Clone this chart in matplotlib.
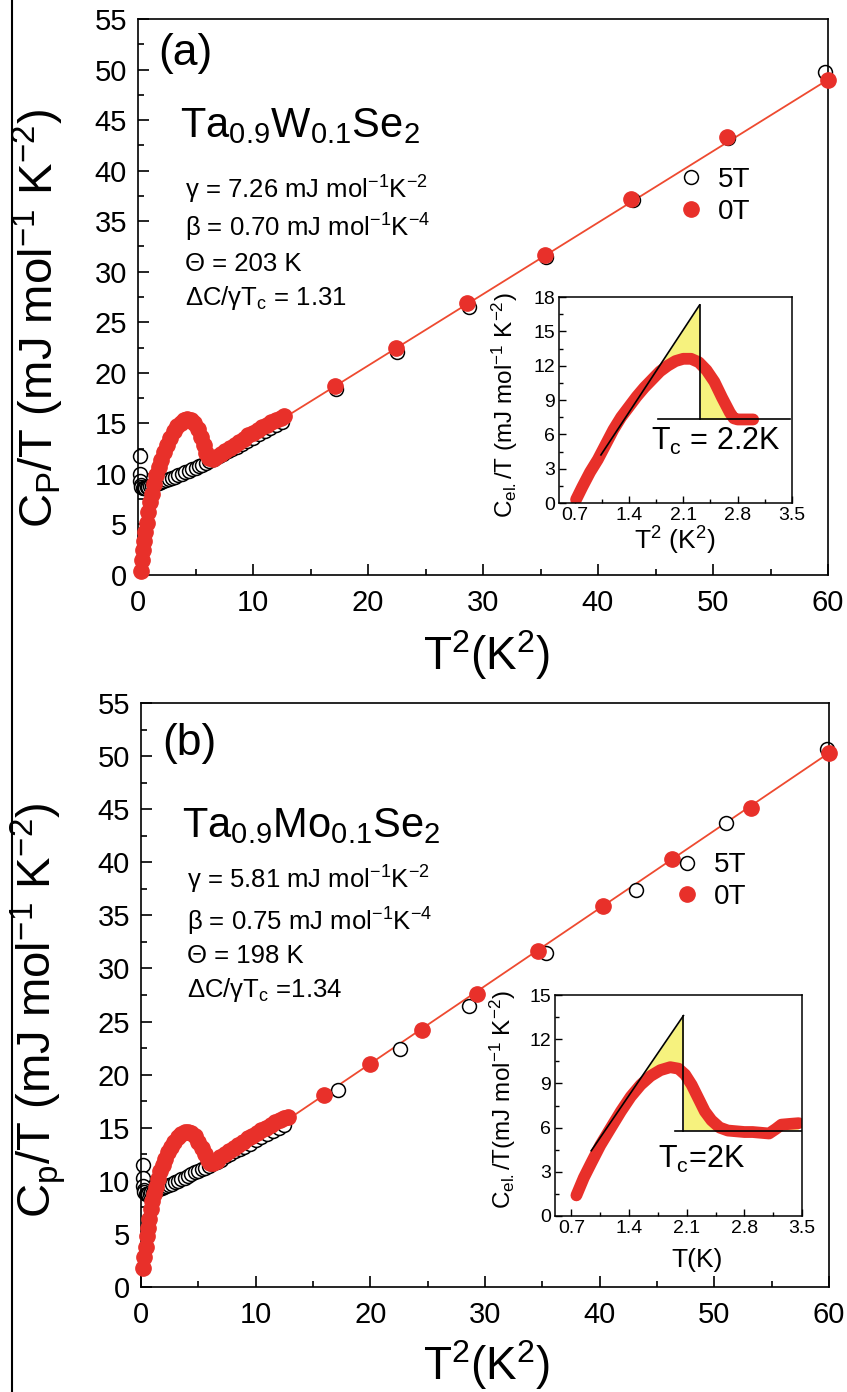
import numpy as np
import matplotlib
matplotlib.use("Agg")
import matplotlib.pyplot as plt
from matplotlib import rc
from matplotlib.ticker import MultipleLocator
from matplotlib.lines import Line2D

rc('font', family=['Liberation Sans', 'DejaVu Sans'])
rc('mathtext', fontset='custom', rm='Liberation Sans', it='Liberation Sans:italic',
   bf='Liberation Sans:bold', sf='Liberation Sans')

W, H = 847, 1392
RED = '#e8302a'
FITC = '#ee4a30'
YEL = '#f6f27e'

# ---------------- data, panel (a): Ta0.9W0.1Se2 ----------------
# 0 T (dense low-T part, then sparse points)
t2_0a = [0.25, 0.35, 0.45, 0.55, 0.65, 0.75, 0.9, 1.05, 1.2, 1.4, 1.6, 1.8, 2.0, 2.25, 2.5,
         2.8, 3.1, 3.4, 3.7, 4.0, 4.3, 4.6, 4.9, 5.2, 5.45, 5.7, 5.95, 6.2, 6.5, 6.8, 7.2,
         7.6, 8.0, 8.4, 8.8, 9.2, 9.6, 10.0, 10.4, 10.8, 11.2, 11.6, 12.0, 12.4, 12.7,
         17.1, 22.4, 28.6, 35.4, 42.9, 51.2, 60.0]
cp_0a = [0.4, 1.5, 2.5, 3.4, 4.3, 5.1, 6.2, 7.2, 8.0, 9.0, 9.9, 10.7, 11.4, 12.2, 12.9,
         13.6, 14.2, 14.7, 15.0, 15.3, 15.4, 15.3, 15.0, 14.4, 13.7, 12.9, 12.1, 11.6, 11.5,
         11.7, 12.0, 12.3, 12.6, 12.9, 13.2, 13.5, 13.8, 14.0, 14.3, 14.6, 14.8, 15.1, 15.3,
         15.5, 15.7,
         18.7, 22.5, 26.9, 31.7, 37.2, 43.3, 49.0]
# 5 T
t2_5a = [0.15, 0.18, 0.2, 0.25, 0.3, 0.4, 0.5, 0.6, 0.75, 0.9, 1.05, 1.2, 1.4, 1.6, 1.8,
         2.0, 2.2, 2.45, 2.7, 2.95, 3.2, 3.5, 3.8, 4.1, 4.4, 4.7, 5.0, 5.3, 5.6, 5.9, 6.2,
         6.6, 7.0, 7.4, 7.8, 8.2, 8.6, 9.0, 9.5, 10.0, 10.5, 11.0, 11.5, 12.0, 12.5,
         17.2, 22.5, 28.8, 35.5, 43.0, 51.3, 59.7]
cp_5a = [11.8, 10.0, 9.3, 8.9, 8.7, 8.6, 8.6, 8.6, 8.7, 8.7, 8.8, 8.8, 8.9, 9.0, 9.1,
         9.2, 9.3, 9.4, 9.5, 9.6, 9.7, 9.9, 10.0, 10.2, 10.3, 10.5, 10.6, 10.8, 10.9, 11.1,
         11.3, 11.5, 11.8, 12.0, 12.3, 12.5, 12.7, 13.0, 13.3, 13.6, 13.9, 14.2, 14.5,
         14.8, 15.1,
         18.4, 22.1, 26.5, 31.5, 37.1, 43.2, 49.8]
fit_t2 = [12.5, 60]
fit_a = [15.4, 49.0]

# inset (a)
ins_xa = [0.72, 0.8, 0.9, 1.0, 1.1, 1.2, 1.3, 1.4, 1.5, 1.6, 1.7, 1.8, 1.9, 2.0, 2.1, 2.2,
          2.3, 2.4, 2.5, 2.6, 2.7, 2.75, 2.8, 2.9, 3.0]
ins_ya = [0.3, 1.4, 2.7, 3.8, 5.1, 6.4, 7.5, 8.4, 9.3, 10.1, 10.8, 11.5, 12.0, 12.4, 12.6,
          12.6, 12.3, 11.6, 10.6, 9.2, 7.9, 7.4, 7.3, 7.3, 7.3]
tang_a = ([1.04, 2.31], [4.2, 17.3])
tc_a, base_a, hline_a = 2.31, 7.3, [1.77, 3.47]

# ---------------- data, panel (b): Ta0.9Mo0.1Se2 ----------------
t2_0b = [0.2, 0.3, 0.4, 0.5, 0.6, 0.7, 0.85, 1.0, 1.15, 1.3, 1.5, 1.7, 1.9, 2.1, 2.35, 2.6,
         2.9, 3.2, 3.5, 3.8, 4.1, 4.4, 4.7, 5.0, 5.3, 5.55, 5.8, 6.05, 6.3, 6.6, 6.9, 7.3,
         7.7, 8.1, 8.5, 8.9, 9.3, 9.7, 10.1, 10.5, 10.9, 11.3, 11.7, 12.1, 12.5, 12.8,
         16.0, 20.0, 24.5, 29.3, 34.6, 40.3, 46.3, 53.2, 60.0]
cp_0b = [1.8, 2.8, 3.8, 4.8, 5.6, 6.4, 7.3, 8.1, 8.8, 9.4, 10.2, 10.9, 11.5, 12.1, 12.7,
         13.2, 13.7, 14.1, 14.4, 14.6, 14.6, 14.5, 14.2, 13.7, 13.1, 12.5, 12.0, 11.7, 11.7,
         11.9, 12.2, 12.5, 12.8, 13.1, 13.4, 13.7, 14.0, 14.2, 14.5, 14.8, 15.0, 15.3, 15.5,
         15.7, 15.9, 16.0,
         18.1, 21.0, 24.2, 27.6, 31.6, 35.9, 40.3, 45.1, 50.3]
t2_5b = [0.15, 0.18, 0.2, 0.25, 0.3, 0.4, 0.5, 0.6, 0.75, 0.9, 1.05, 1.2, 1.4, 1.6, 1.8,
         2.0, 2.2, 2.45, 2.7, 2.95, 3.2, 3.5, 3.8, 4.1, 4.4, 4.7, 5.0, 5.3, 5.6, 5.9, 6.2,
         6.6, 7.0, 7.4, 7.8, 8.2, 8.6, 9.0, 9.5, 10.0, 10.5, 11.0, 11.5, 12.0, 12.5,
         17.2, 22.6, 28.6, 35.3, 43.2, 51.0, 59.8]
cp_5b = [11.5, 10.3, 9.5, 9.1, 8.9, 8.8, 8.8, 8.8, 8.8, 8.9, 8.9, 9.0, 9.1, 9.2, 9.3,
         9.4, 9.5, 9.6, 9.7, 9.9, 10.0, 10.2, 10.3, 10.5, 10.6, 10.8, 10.9, 11.1, 11.2,
         11.4, 11.6, 11.8, 12.0, 12.3, 12.5, 12.8, 13.0, 13.2, 13.5, 13.8, 14.1, 14.4,
         14.7, 15.0, 15.3,
         18.6, 22.4, 26.5, 31.5, 37.4, 43.7, 50.7]
fit_b = [15.55, 50.3]

ins_xb = [0.76, 0.85, 0.94, 1.05, 1.18, 1.3, 1.42, 1.54, 1.66, 1.78, 1.9, 2.0, 2.08, 2.16,
          2.24, 2.32, 2.4, 2.5, 2.6, 2.7, 2.8, 2.9, 3.0, 3.1, 3.18, 3.25, 3.35, 3.46]
ins_yb = [1.4, 2.6, 3.6, 4.8, 6.0, 7.1, 8.1, 8.9, 9.5, 9.9, 10.1, 10.0, 9.6, 8.9, 8.0, 7.1,
          6.5, 6.0, 5.8, 5.75, 5.7, 5.7, 5.65, 5.6, 5.9, 6.2, 6.25, 6.3]
tang_b = ([0.94, 2.06], [4.43, 13.6])
tc_b, base_b, hline_b = 2.06, 5.8, [1.96, 3.5]


def box(l, t, r, b):
    return [l / W, 1 - b / H, (r - l) / W, (b - t) / H]


def ftxt(x, y, s, **kw):
    fig.text(x / W, 1 - y / H, s, **kw)


def main_panel(rect, t2_5, cp_5, t2_0, cp_0, fit):
    ax = fig.add_axes(rect)
    ax.plot(fit_t2, fit, color=FITC, lw=1.3, zorder=1)
    ax.plot(t2_5, cp_5, 'o', ms=10, mfc='white', mec='black', mew=1.1, zorder=2,
            label='5T', clip_on=False)
    ax.plot(t2_0, cp_0, 'o', ms=11, mfc=RED, mec=RED, zorder=3, label='0T',
            clip_on=False)
    ax.set_xlim(0, 60)
    ax.set_ylim(0, 55)
    ax.xaxis.set_major_locator(MultipleLocator(10))
    ax.xaxis.set_minor_locator(MultipleLocator(5))
    ax.yaxis.set_major_locator(MultipleLocator(5))
    ax.yaxis.set_minor_locator(MultipleLocator(2.5))
    ax.tick_params(which='both', direction='in', labelsize=21, width=1.2)
    ax.tick_params(which='major', length=8, pad=8)
    ax.tick_params(which='minor', length=4)
    ax.tick_params(axis='x', pad=10)
    for s in ax.spines.values():
        s.set_linewidth(1.2)
    return ax


def inset(rect, xs, ys, tang, tc, base, hline, ymax, ystep):
    ax = fig.add_axes(rect)
    xf = np.linspace(xs[0], xs[-1], 400)
    curve = np.interp(xf, xs, ys)
    line = np.interp(xf, tang[0], tang[1], left=np.nan, right=np.nan)
    left = (xf <= tc) & (line > curve)
    ax.fill_between(xf, curve, line, where=left, color=YEL, lw=0, zorder=1)
    right = (xf >= tc) & (curve > base)
    ax.fill_between(xf, base, curve, where=right, color=YEL, lw=0, zorder=1)
    ax.plot(xs, ys, color=RED, lw=8.5, solid_capstyle='round', zorder=2)
    ax.plot(tang[0], tang[1], color='black', lw=1.2, zorder=3)
    ax.plot([tc, tc], [base, tang[1][1]], color='black', lw=1.2, zorder=3)
    ax.plot(hline, [base, base], color='black', lw=1.2, zorder=3)
    ax.set_xlim(0.5, 3.5)
    ax.set_ylim(0, ymax)
    ax.xaxis.set_major_locator(MultipleLocator(0.7))
    ax.xaxis.set_minor_locator(MultipleLocator(0.35))
    ax.yaxis.set_major_locator(MultipleLocator(ystep))
    ax.yaxis.set_minor_locator(MultipleLocator(ystep / 2))
    ax.tick_params(which='both', direction='in', labelsize=14, width=1.0, pad=3)
    ax.tick_params(which='major', length=5)
    ax.tick_params(which='minor', length=3)
    for s in ax.spines.values():
        s.set_linewidth(1.1)
    return ax


fig = plt.figure(figsize=(W / 100, H / 100), dpi=100)

# ---------- panel (a) ----------
axa = main_panel(box(138, 19, 828, 575), t2_5a, cp_5a, t2_0a, cp_0a, fit_a)
axa.legend(loc='center left', bbox_to_anchor=(660 / W, 1 - 196 / H),
           bbox_transform=fig.transFigure, frameon=False, fontsize=20,
           handletextpad=0.4, labelspacing=0.2, handlelength=1.2, borderpad=0)
ftxt(38, 318, r'C$_\mathrm{P}$/T (mJ mol$^{-1}$ K$^{-2}$)', rotation=90,
     ha='center', va='center', fontsize=34)
ftxt(487, 655, r'T$^2$(K$^2$)', ha='center', va='center', fontsize=33)
ftxt(158, 53, '(a)', ha='left', va='center', fontsize=32)
ftxt(180, 137, r'Ta$_{0.9}$W$_{0.1}$Se$_2$', ha='left', va='baseline', fontsize=30)
ftxt(185, 190, r'γ = 7.26 mJ mol$^{-1}$K$^{-2}$', ha='left', va='center', fontsize=18.5)
ftxt(185, 228, r'β = 0.70 mJ mol$^{-1}$K$^{-4}$', ha='left', va='center', fontsize=18.5)
ftxt(185, 264, 'Θ = 203 K', ha='left', va='center', fontsize=18.5)
ftxt(185, 298, r'ΔC/γT$_\mathrm{c}$ = 1.31', ha='left', va='center', fontsize=18.5)

ia = inset(box(559, 297, 792, 503), ins_xa, ins_ya, tang_a, tc_a, base_a, hline_a, 18, 3)
ftxt(505, 405, r'C$_\mathrm{el.}$/T (mJ mol$^{-1}$ K$^{-2}$)', rotation=90,
     ha='center', va='center', fontsize=17.5)
ftxt(675, 541, r'T$^2$ (K$^2$)', ha='center', va='center', fontsize=19)
ftxt(651, 450, r'T$_\mathrm{c}$ = 2.2K', ha='left', va='baseline', fontsize=22)

# ---------- panel (b) ----------
axb = main_panel(box(141, 703, 829, 1287), t2_5b, cp_5b, t2_0b, cp_0b, fit_b)
axb.legend(loc='center left', bbox_to_anchor=(656 / W, 1 - 881 / H),
           bbox_transform=fig.transFigure, frameon=False, fontsize=20,
           handletextpad=0.4, labelspacing=0.2, handlelength=1.2, borderpad=0)
ftxt(38, 1010, r'C$_\mathrm{p}$/T (mJ mol$^{-1}$ K$^{-2}$)', rotation=90,
     ha='center', va='center', fontsize=34)
ftxt(487, 1365, r'T$^2$(K$^2$)', ha='center', va='center', fontsize=33)
ftxt(162, 743, '(b)', ha='left', va='center', fontsize=32)
ftxt(182, 837, r'Ta$_{0.9}$Mo$_{0.1}$Se$_2$', ha='left', va='baseline', fontsize=30)
ftxt(187, 880, r'γ = 5.81 mJ mol$^{-1}$K$^{-2}$', ha='left', va='center', fontsize=18.5)
ftxt(187, 922, r'β = 0.75 mJ mol$^{-1}$K$^{-4}$', ha='left', va='center', fontsize=18.5)
ftxt(187, 956, 'Θ = 198 K', ha='left', va='center', fontsize=18.5)
ftxt(187, 990, r'ΔC/γT$_\mathrm{c}$ =1.34', ha='left', va='center', fontsize=18.5)

ib = inset(box(555, 995, 802, 1216), ins_xb, ins_yb, tang_b, tc_b, base_b, hline_b, 15, 3)
ftxt(503, 1100, r'C$_\mathrm{el.}$/T(mJ mol$^{-1}$ K$^{-2}$)', rotation=90,
     ha='center', va='center', fontsize=17.5)
ftxt(697, 1260, 'T(K)', ha='center', va='center', fontsize=19)
ftxt(658, 1168, r'T$_\mathrm{c}$=2K', ha='left', va='baseline', fontsize=22)

# thin frame line on the left edge of the page
fig.add_artist(Line2D([12 / W, 12 / W], [0, 1], color='black', lw=1.5,
                      transform=fig.transFigure))

fig.savefig('out.png', dpi=100)
